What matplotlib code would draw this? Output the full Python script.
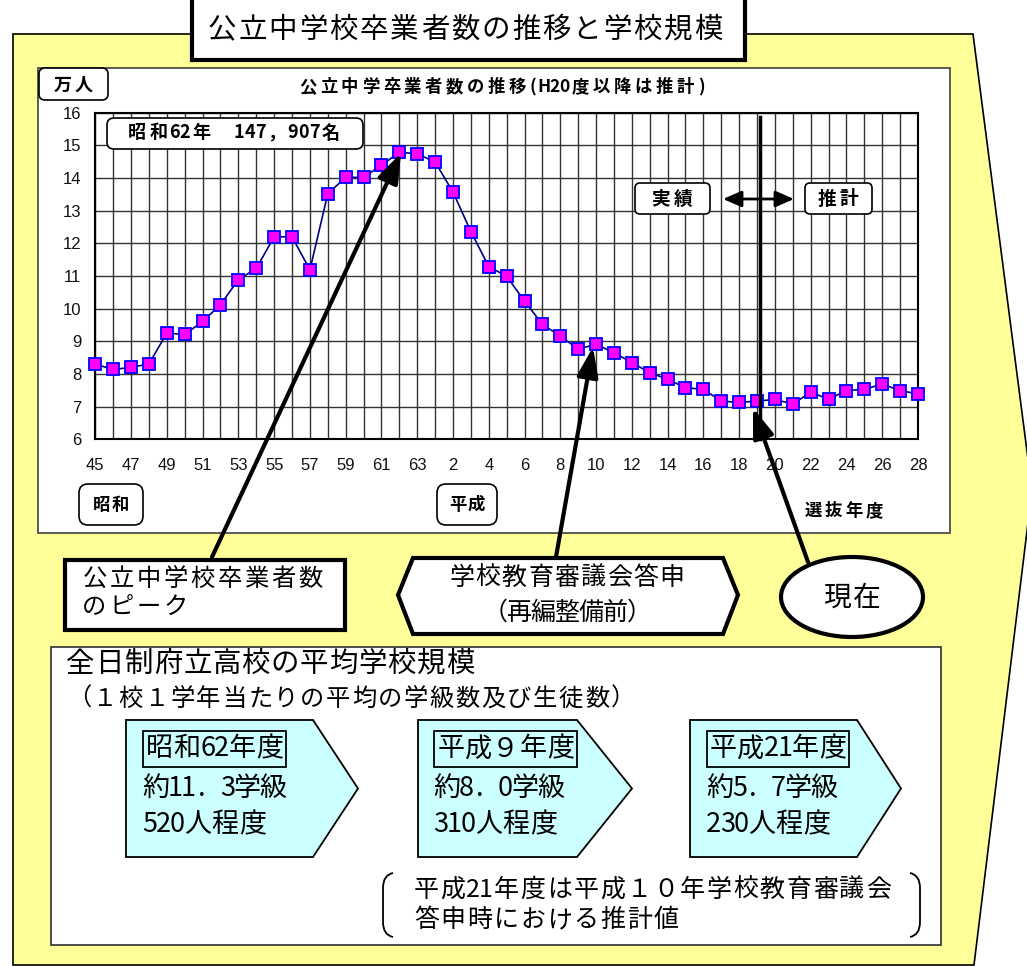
import numpy as np
import matplotlib
matplotlib.use('Agg')
import matplotlib.pyplot as plt
from matplotlib.patches import Polygon, Rectangle, FancyBboxPatch, Ellipse, FancyArrowPatch, PathPatch
from matplotlib.path import Path

plt.rcParams['font.family'] = ['Noto Sans CJK JP', 'DejaVu Sans']

# 公立中学校卒業者数（万人）　昭和45年〜平成28年、H20以降は推計
showa_years = list(range(45, 64))
heisei_years = list(range(1, 29))
graduates_showa = [8.30, 8.14, 8.20, 8.31, 9.25, 9.21, 9.61, 10.12, 10.89, 11.23,
                   12.20, 12.20, 11.19, 13.52, 14.02, 14.02, 14.39, 14.79, 14.74]
graduates_heisei = [14.49, 13.57, 12.36, 11.29, 10.99, 10.23, 9.52, 9.16, 8.76, 8.91,
                    8.65, 8.35, 8.04, 7.84, 7.58, 7.53, 7.17, 7.13, 7.17, 7.22,
                    7.08, 7.44, 7.23, 7.49, 7.53, 7.69, 7.49, 7.39]
peak_label = '昭和62年　147，907名'

# 全日制府立高校の平均学校規模
scale_years = ['昭和62年度', '平成９年度', '平成21年度']
scale_classes = ['約11. 3学級', '約8. 0学級', '約5. 7学級']
scale_students = ['520人程度', '310人程度', '230人程度']

W, H = 1027, 966


def spaced(axis, x, y, s, step, size, ha='left', **kw):
    # 等幅（全角=1, 半角=0.5）で一文字ずつ並べる
    cells = [0.5 if ord(c) < 0x1100 else 1.0 for c in s]
    total = sum(cells) * step
    if ha == 'center':
        x -= total / 2
    elif ha == 'right':
        x -= total
    for c, w in zip(s, cells):
        axis.text(x + w * step / 2, y, c, ha='center', va='center', fontsize=size, **kw)
        x += w * step


def rbox(axis, x0, y0, x1, y1, r=6, lw=1.2, fc='white', z=2):
    axis.add_patch(FancyBboxPatch((x0, y0), x1 - x0, y1 - y0,
                                  boxstyle=f'round,pad=0,rounding_size={r}',
                                  fc=fc, ec='k', lw=lw, zorder=z))


fig = plt.figure(figsize=(W / 100, H / 100), dpi=100)

# 背景レイヤー（ピクセル座標）
bg = fig.add_axes([0, 0, 1, 1], zorder=1)
bg.set_xlim(0, W)
bg.set_ylim(H, 0)
bg.axis('off')

bg.add_patch(Polygon([(13, 34), (973, 34), (1032, 490), (974, 965), (13, 965)],
                     closed=True, fc='#FFFF99', ec='k', lw=1.2))
bg.add_patch(Rectangle((192, -5), 553, 65, fc='white', ec='k', lw=3))
spaced(bg, 207, 30, '公立中学校卒業者数の推移と学校規模', 30.4, 20.5)

small = dict(fontweight='bold')
bg.add_patch(Rectangle((38, 68), 912, 465, fc='white', ec='#404040', lw=1.2))
rbox(bg, 39, 68, 108, 100, r=6)
spaced(bg, 73, 85, '万人', 21, 13, ha='center', **small)
spaced(bg, 297, 87, '公立中学卒業者数の推移(H20度以降は推計)', 21, 12.5, **small)
rbox(bg, 79, 484, 143, 525, r=9)
spaced(bg, 111, 505, '昭和', 19, 12.5, ha='center', **small)
rbox(bg, 437, 484, 497, 525, r=9)
spaced(bg, 467, 505, '平成', 19, 12.5, ha='center', **small)
spaced(bg, 844, 511, '選抜年度', 20.5, 12.5, ha='center', **small)

# 平均学校規模パネル
bg.add_patch(Rectangle((51, 647), 890, 298, fc='white', ec='#303030', lw=1.2))
spaced(bg, 66, 664, '全日制府立高校の平均学校規模', 29.2, 20.5)
spaced(bg, 66, 699, '（１校１学年当たりの平均の学級数及び生徒数）', 25.9, 17.5)

pent_left = [126, 418, 690]
pent_corner = [313, 577, 857]
pent_tip = [358, 632, 901]
head_box = [(143, 286), (434, 577), (707, 849)]
for i in range(3):
    xl, xc, xt = pent_left[i], pent_corner[i], pent_tip[i]
    top, bot = 720, 857
    bg.add_patch(Polygon([(xl, top), (xc, top), (xt, (top + bot) / 2), (xc, bot), (xl, bot)],
                         closed=True, fc='#CCFFFF', ec='k', lw=1.3))
    hx0, hx1 = head_box[i]
    bg.add_patch(Rectangle((hx0, 731), hx1 - hx0, 36, fill=False, ec='k', lw=1.3))
    spaced(bg, (hx0 + hx1) / 2, 749, scale_years[i], 27.4, 19.5, ha='center')
    spaced(bg, hx0, 788, scale_classes[i], 26, 19.5)
    spaced(bg, hx0, 825, scale_students[i], 27.4, 19.5)

for xs in [(393, 383), (910, 920)]:
    a, b = xs
    verts = [(a, 873), (b, 875), (b, 888), (b, 922), (b, 935), (a, 937)]
    codes = [Path.MOVETO, Path.CURVE3, Path.CURVE3, Path.LINETO, Path.CURVE3, Path.CURVE3]
    bg.add_patch(PathPatch(Path(verts, codes), fill=False, ec='k', lw=1.3))
spaced(bg, 413, 890, '平成21年度は平成１０年学校教育審議会', 26.6, 18)
spaced(bg, 413, 920, '答申時における推計値', 26.6, 18)

# 卒業者数の推移グラフ
ax = fig.add_axes([95.3 / W, 1 - 439.3 / H, (918 - 95.3) / W, (439.3 - 112.7) / H], zorder=2)
values = graduates_showa + graduates_heisei
years = showa_years + heisei_years
xpos = np.arange(len(values))
ax.plot(xpos, values, color='#000080', lw=1.2, marker='s', ms=8,
        mfc='#FF00FF', mec='#0000FF', mew=1.3, zorder=4, clip_on=False)
ax.set_xlim(0, len(values) - 1)
ax.set_ylim(6, 16)
ax.set_xticks(xpos)
ax.set_xticklabels([str(y) if i % 2 == 0 else '' for i, y in enumerate(years)])
ax.set_yticks(range(6, 17))
ax.tick_params(length=0, labelsize=12, colors='#111111')
ax.tick_params(axis='x', pad=13.5)
ax.tick_params(axis='y', pad=10)
for lab in ax.get_xticklabels() + ax.get_yticklabels():
    lab.set_family(['Liberation Sans', 'DejaVu Sans'])
ax.grid(True, color='#333333', lw=1.0)
ax.set_axisbelow(True)
for sp in ax.spines.values():
    sp.set_linewidth(1.5)
    sp.set_color('k')

# 現在（H19）の区切り線
now_x = 37.15
ax.plot([now_x, now_x], [6, 15.87], color='k', lw=2.5, zorder=5, clip_on=False)

# 前面レイヤー（吹き出し・矢印）
fg = fig.add_axes([0, 0, 1, 1], zorder=3)
fg.set_xlim(0, W)
fg.set_ylim(H, 0)
fg.axis('off')
fg.patch.set_visible(False)

rbox(fg, 107, 118, 363, 149, r=7, z=3)
spaced(fg, 126, 133, peak_label, 21.5, 13, zorder=4, **small)
rbox(fg, 635, 183, 710, 214, r=5, z=3)
spaced(fg, 672, 199, '実績', 22, 13.5, ha='center', zorder=4, **small)
rbox(fg, 805, 183, 872, 214, r=5, z=3)
spaced(fg, 838, 199, '推計', 22, 13.5, ha='center', zorder=4, **small)
fg.add_patch(FancyArrowPatch((723, 199), (794, 199), arrowstyle='<|-|>,head_length=0.8,head_width=0.35',
                             mutation_scale=14, color='k', lw=2, shrinkA=0, shrinkB=0, zorder=3))

arrows = [((212, 557), (401, 153)), ((556, 557), (593, 347)), ((808, 562), (753, 408))]
for start, tip in arrows:
    fg.add_patch(FancyArrowPatch(start, tip, arrowstyle='-|>,head_length=0.9,head_width=0.32',
                                 mutation_scale=20, color='k', lw=3, shrinkA=0, shrinkB=0, zorder=2))

fg.add_patch(Rectangle((65, 560), 280, 70, fc='white', ec='k', lw=3, zorder=3))
spaced(fg, 81, 579, '公立中学校卒業者数', 27, 17.5, zorder=4)
spaced(fg, 81, 607, 'のピーク', 27, 17.5, zorder=4)

fg.add_patch(Polygon([(398, 595), (413, 558), (723, 558), (738, 595), (723, 634), (413, 634)],
                     closed=True, fc='white', ec='k', lw=3, zorder=3))
spaced(fg, 567, 578, '学校教育審議会答申', 26.3, 18, ha='center', zorder=4)
spaced(fg, 567, 613, '（再編整備前）', 24, 18, ha='center', zorder=4)

fg.add_patch(Ellipse((852, 597), 142, 80, fc='white', ec='k', lw=3, zorder=3))
spaced(fg, 852, 598, '現在', 29, 20, ha='center', zorder=4)

fig.savefig('out.png', dpi=100)
